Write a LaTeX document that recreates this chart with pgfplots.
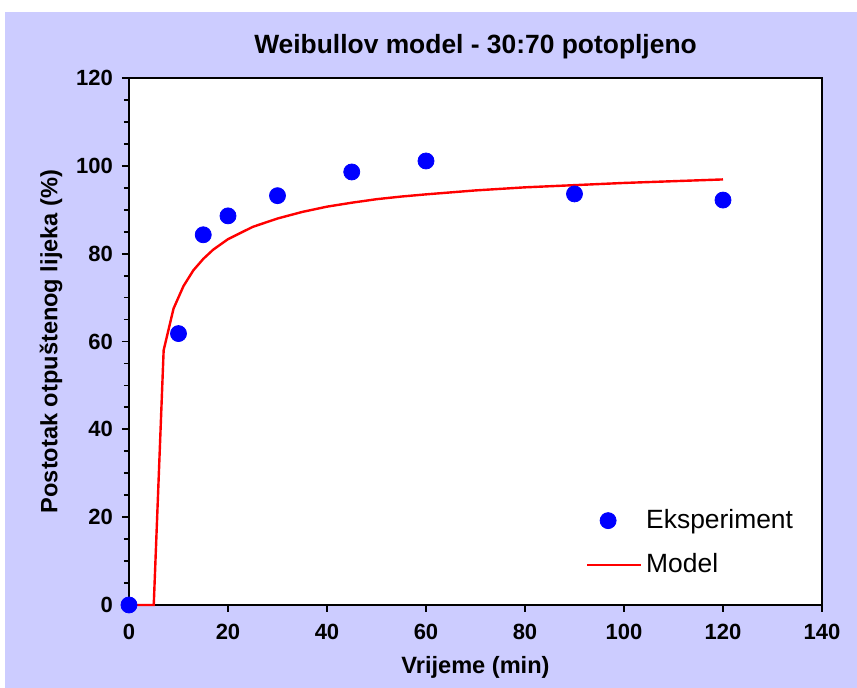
\documentclass[border=0pt]{standalone}
\usepackage{pgfplots}
\pgfplotsset{compat=1.18}
\usepackage{fontspec}
\setmainfont{Liberation Sans}
\definecolor{lavbg}{HTML}{CCCCFF}

\begin{document}
\begin{tikzpicture}
% page frame and lavender chart area (1 px = 0.5 pt)
\path[use as bounding box] (-64.5pt,-41.5pt) rectangle (364pt,302.5pt);
\fill[lavbg] (-62pt,-41.5pt) rectangle (364pt,296.5pt);
\begin{axis}[
at={(0,0)}, anchor=south west,
scale only axis,
width=346.5pt, height=263.5pt,
xmin=0, xmax=140, ymin=0, ymax=120,
xtick={0,20,...,140}, ytick={0,20,...,120},
minor y tick num=3,
xtick pos=bottom, ytick pos=left,
tick align=outside,
major tick length=3.5pt, minor tick length=2.5pt,
every tick/.style={black, line width=0.9pt},
axis line style={line width=1pt},
axis background/.style={fill=white},
clip=false,
ticklabel style={font=\bfseries\fontsize{11}{13}\selectfont},
/pgf/number format/assume math mode=true,
xticklabel style={yshift=-2.5pt},
yticklabel style={xshift=-1pt},
title={\bfseries Weibullov model - 30:70 potopljeno},
title style={font=\fontsize{13.2}{15}\selectfont, yshift=0pt},
xlabel={\bfseries Vrijeme (min)},
ylabel={\bfseries Postotak otpuštenog lijeka (\%)},
label style={font=\fontsize{11.8}{14}\selectfont},
xlabel style={yshift=-1.5pt},
legend style={draw=none, fill=none, at={(0.65,0.197)}, anchor=north west,
  font=\fontsize{13.2}{16}\selectfont, row sep=7pt,
  legend cell align=left},
]
\addplot[only marks, mark=*, mark size=4pt, color=blue, mark options={fill=blue, draw=blue}]
coordinates {
(0,0) (10,61.8) (15,84.3) (20,88.6) (30,93.2) (45,98.6) (60,101.1) (90,93.6) (120,92.2)
};
\addlegendentry{Eksperiment}

\addplot[color=red, line width=1.2pt, mark=none,
  legend image code/.code={\draw[red, line width=1.2pt] (-2pt,0pt) -- (25pt,0pt);}]
coordinates {
(0,0) (5,0) (7,58.0) (9,67.5) (11,72.6) (13,76.2) (15,78.8) (17,80.9)
(20,83.3) (25,86.1) (30,88.0) (35,89.5) (40,90.7) (45,91.6) (50,92.4)
(55,93.0) (60,93.5) (70,94.4) (80,95.1) (90,95.6) (100,96.1) (110,96.5) (120,96.9)
};
\addlegendentry{Model}
\end{axis}
\end{tikzpicture}
\end{document}
